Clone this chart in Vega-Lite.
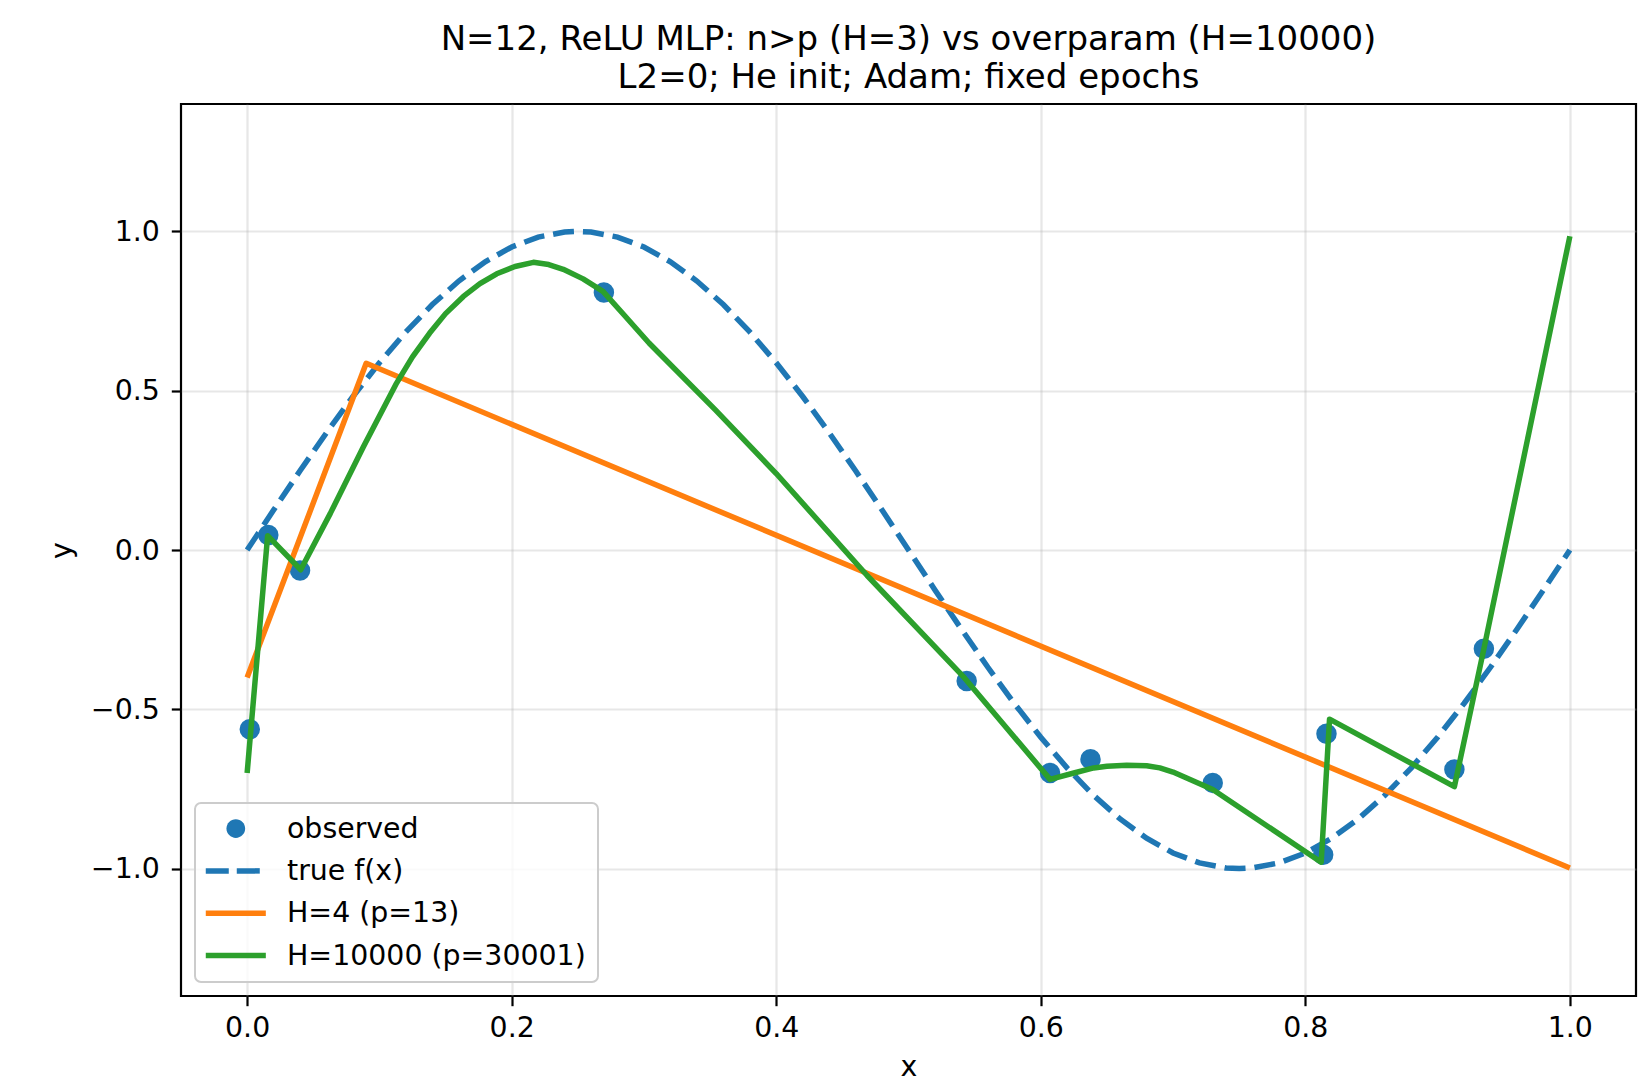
{
  "$schema": "https://vega.github.io/schema/vega-lite/v6.json",
  "width": 1455,
  "height": 892,
  "autosize": {"type": "none"},
  "padding": {"left": 181, "top": 104, "right": 14, "bottom": 82},
  "background": "white",
  "title": {
    "text": ["N=12, ReLU MLP: n>p (H=3) vs overparam (H=10000)", "L2=0; He init; Adam; fixed epochs"],
    "font": "DejaVu Sans",
    "fontSize": 34,
    "fontWeight": "normal",
    "color": "black",
    "lineHeight": 38,
    "anchor": "middle",
    "frame": "group",
    "baseline": "bottom",
    "offset": 9,
    "dy": 34
  },
  "config": {
    "font": "DejaVu Sans",
    "view": {"stroke": "black", "strokeWidth": 2.2},
    "axis": {
      "domain": false,
      "grid": true,
      "gridColor": "#b0b0b0",
      "gridOpacity": 0.3,
      "gridWidth": 2.2,
      "tickColor": "black",
      "tickWidth": 2.2,
      "tickSize": 9.7,
      "labelFont": "DejaVu Sans",
      "labelFontSize": 28.4,
      "labelColor": "black",
      "titleFont": "DejaVu Sans",
      "titleFontSize": 28.4,
      "titleFontWeight": "normal",
      "titleColor": "black"
    }
  },
  "datasets": {
    "obs": [
      {"x": 0.002, "y": -0.563, "series": "observed"},
      {"x": 0.016, "y": 0.047, "series": "observed"},
      {"x": 0.040, "y": -0.064, "series": "observed"},
      {"x": 0.2697, "y": 0.808, "series": "observed"},
      {"x": 0.544, "y": -0.411, "series": "observed"},
      {"x": 0.607, "y": -0.70, "series": "observed"},
      {"x": 0.6376, "y": -0.657, "series": "observed"},
      {"x": 0.730, "y": -0.731, "series": "observed"},
      {"x": 0.816, "y": -0.577, "series": "observed"},
      {"x": 0.8135, "y": -0.957, "series": "observed"},
      {"x": 0.9127, "y": -0.689, "series": "observed"},
      {"x": 0.935, "y": -0.31, "series": "observed"}
    ],
    "truef": [
      {"x": 0.00, "y": 0.0, "series": "true f(x)"},
      {"x": 0.02, "y": 0.1253, "series": "true f(x)"},
      {"x": 0.04, "y": 0.2487, "series": "true f(x)"},
      {"x": 0.06, "y": 0.3681, "series": "true f(x)"},
      {"x": 0.08, "y": 0.4818, "series": "true f(x)"},
      {"x": 0.10, "y": 0.5878, "series": "true f(x)"},
      {"x": 0.12, "y": 0.6845, "series": "true f(x)"},
      {"x": 0.14, "y": 0.7705, "series": "true f(x)"},
      {"x": 0.16, "y": 0.8443, "series": "true f(x)"},
      {"x": 0.18, "y": 0.9048, "series": "true f(x)"},
      {"x": 0.20, "y": 0.9511, "series": "true f(x)"},
      {"x": 0.22, "y": 0.9823, "series": "true f(x)"},
      {"x": 0.24, "y": 0.9980, "series": "true f(x)"},
      {"x": 0.25, "y": 1.0, "series": "true f(x)"},
      {"x": 0.26, "y": 0.9980, "series": "true f(x)"},
      {"x": 0.28, "y": 0.9823, "series": "true f(x)"},
      {"x": 0.30, "y": 0.9511, "series": "true f(x)"},
      {"x": 0.32, "y": 0.9048, "series": "true f(x)"},
      {"x": 0.34, "y": 0.8443, "series": "true f(x)"},
      {"x": 0.36, "y": 0.7705, "series": "true f(x)"},
      {"x": 0.38, "y": 0.6845, "series": "true f(x)"},
      {"x": 0.40, "y": 0.5878, "series": "true f(x)"},
      {"x": 0.42, "y": 0.4818, "series": "true f(x)"},
      {"x": 0.44, "y": 0.3681, "series": "true f(x)"},
      {"x": 0.46, "y": 0.2487, "series": "true f(x)"},
      {"x": 0.48, "y": 0.1253, "series": "true f(x)"},
      {"x": 0.50, "y": 0.0, "series": "true f(x)"},
      {"x": 0.52, "y": -0.1253, "series": "true f(x)"},
      {"x": 0.54, "y": -0.2487, "series": "true f(x)"},
      {"x": 0.56, "y": -0.3681, "series": "true f(x)"},
      {"x": 0.58, "y": -0.4818, "series": "true f(x)"},
      {"x": 0.60, "y": -0.5878, "series": "true f(x)"},
      {"x": 0.62, "y": -0.6845, "series": "true f(x)"},
      {"x": 0.64, "y": -0.7705, "series": "true f(x)"},
      {"x": 0.66, "y": -0.8443, "series": "true f(x)"},
      {"x": 0.68, "y": -0.9048, "series": "true f(x)"},
      {"x": 0.70, "y": -0.9511, "series": "true f(x)"},
      {"x": 0.72, "y": -0.9823, "series": "true f(x)"},
      {"x": 0.74, "y": -0.9980, "series": "true f(x)"},
      {"x": 0.75, "y": -1.0, "series": "true f(x)"},
      {"x": 0.76, "y": -0.9980, "series": "true f(x)"},
      {"x": 0.78, "y": -0.9823, "series": "true f(x)"},
      {"x": 0.80, "y": -0.9511, "series": "true f(x)"},
      {"x": 0.82, "y": -0.9048, "series": "true f(x)"},
      {"x": 0.84, "y": -0.8443, "series": "true f(x)"},
      {"x": 0.86, "y": -0.7705, "series": "true f(x)"},
      {"x": 0.88, "y": -0.6845, "series": "true f(x)"},
      {"x": 0.90, "y": -0.5878, "series": "true f(x)"},
      {"x": 0.92, "y": -0.4818, "series": "true f(x)"},
      {"x": 0.94, "y": -0.3681, "series": "true f(x)"},
      {"x": 0.96, "y": -0.2487, "series": "true f(x)"},
      {"x": 0.98, "y": -0.1253, "series": "true f(x)"},
      {"x": 1.00, "y": 0.0, "series": "true f(x)"}
    ],
    "h4": [
      {"x": 0.0, "y": -0.40, "series": "H=4 (p=13)"},
      {"x": 0.090, "y": 0.586, "series": "H=4 (p=13)"},
      {"x": 1.0, "y": -0.998, "series": "H=4 (p=13)"}
    ],
    "h10000": [
      {"x": 0.0, "y": -0.70, "series": "H=10000 (p=30001)"},
      {"x": 0.0155, "y": 0.045, "series": "H=10000 (p=30001)"},
      {"x": 0.0405, "y": -0.062, "series": "H=10000 (p=30001)"},
      {"x": 0.0629, "y": 0.115, "series": "H=10000 (p=30001)"},
      {"x": 0.088, "y": 0.325, "series": "H=10000 (p=30001)"},
      {"x": 0.113, "y": 0.524, "series": "H=10000 (p=30001)"},
      {"x": 0.125, "y": 0.606, "series": "H=10000 (p=30001)"},
      {"x": 0.138, "y": 0.681, "series": "H=10000 (p=30001)"},
      {"x": 0.150, "y": 0.742, "series": "H=10000 (p=30001)"},
      {"x": 0.1635, "y": 0.796, "series": "H=10000 (p=30001)"},
      {"x": 0.176, "y": 0.836, "series": "H=10000 (p=30001)"},
      {"x": 0.1887, "y": 0.867, "series": "H=10000 (p=30001)"},
      {"x": 0.2025, "y": 0.890, "series": "H=10000 (p=30001)"},
      {"x": 0.2164, "y": 0.903, "series": "H=10000 (p=30001)"},
      {"x": 0.228, "y": 0.896, "series": "H=10000 (p=30001)"},
      {"x": 0.239, "y": 0.881, "series": "H=10000 (p=30001)"},
      {"x": 0.254, "y": 0.851, "series": "H=10000 (p=30001)"},
      {"x": 0.269, "y": 0.812, "series": "H=10000 (p=30001)"},
      {"x": 0.286, "y": 0.733, "series": "H=10000 (p=30001)"},
      {"x": 0.304, "y": 0.649, "series": "H=10000 (p=30001)"},
      {"x": 0.354, "y": 0.440, "series": "H=10000 (p=30001)"},
      {"x": 0.400, "y": 0.240, "series": "H=10000 (p=30001)"},
      {"x": 0.4687, "y": -0.080, "series": "H=10000 (p=30001)"},
      {"x": 0.542, "y": -0.400, "series": "H=10000 (p=30001)"},
      {"x": 0.607, "y": -0.720, "series": "H=10000 (p=30001)"},
      {"x": 0.625, "y": -0.700, "series": "H=10000 (p=30001)"},
      {"x": 0.640, "y": -0.684, "series": "H=10000 (p=30001)"},
      {"x": 0.650, "y": -0.679, "series": "H=10000 (p=30001)"},
      {"x": 0.665, "y": -0.676, "series": "H=10000 (p=30001)"},
      {"x": 0.680, "y": -0.677, "series": "H=10000 (p=30001)"},
      {"x": 0.690, "y": -0.684, "series": "H=10000 (p=30001)"},
      {"x": 0.700, "y": -0.697, "series": "H=10000 (p=30001)"},
      {"x": 0.730, "y": -0.752, "series": "H=10000 (p=30001)"},
      {"x": 0.812, "y": -0.980, "series": "H=10000 (p=30001)"},
      {"x": 0.8183, "y": -0.531, "series": "H=10000 (p=30001)"},
      {"x": 0.9127, "y": -0.743, "series": "H=10000 (p=30001)"},
      {"x": 0.935, "y": -0.310, "series": "H=10000 (p=30001)"},
      {"x": 1.0, "y": 0.985, "series": "H=10000 (p=30001)"}
    ]
  },
  "encoding": {
    "x": {
      "field": "x",
      "type": "quantitative",
      "scale": {"domain": [-0.05, 1.05], "nice": false, "zero": false},
      "axis": {
        "title": "x",
        "values": [0, 0.2, 0.4, 0.6, 0.8, 1.0],
        "format": ".1f",
        "labelPadding": 9,
        "titlePadding": 11
      }
    },
    "y": {
      "field": "y",
      "type": "quantitative",
      "scale": {"domain": [-1.4, 1.4], "nice": false, "zero": false},
      "axis": {
        "title": "y",
        "values": [-1, -0.5, 0, 0.5, 1],
        "labelExpr": "replace(format(datum.value, '.1f'), '-', '\u2212')",
        "labelPadding": 12,
        "titlePadding": 14
      }
    },
    "color": {
      "field": "series",
      "type": "nominal",
      "scale": {
        "domain": ["observed", "true f(x)", "H=4 (p=13)", "H=10000 (p=30001)"],
        "range": ["#1f77b4", "#1f77b4", "#ff7f0e", "#2ca02c"]
      },
      "legend": {
        "title": null,
        "orient": "bottom-left",
        "offset": 14.2,
        "padding": 11.4,
        "fillColor": "rgba(255,255,255,0.8)",
        "strokeColor": "#cccccc",
        "cornerRadius": 6,
        "labelFont": "DejaVu Sans",
        "labelFontSize": 28.4,
        "labelColor": "black",
        "labelLimit": 600,
        "symbolSize": 484,
        "symbolStrokeWidth": 5.5,
        "symbolOffset": 15.2,
        "labelOffset": 37,
        "rowPadding": 13.3,
        "encode": {
          "legend": {"update": {"strokeWidth": {"value": 2}}},
          "symbols": {
            "update": {
              "shape": {"signal": "datum.value === 'observed' ? 'M0.85,0A0.85,0.85,0,1,1,-0.85,0A0.85,0.85,0,1,1,0.85,0Z' : 'M-2.73,0L2.73,0'"},
              "fill": {"signal": "datum.value === 'observed' ? '#1f77b4' : 'transparent'"},
              "fillOpacity": {"value": 1},
              "stroke": {"signal": "datum.value === 'observed' ? 'transparent' : (datum.value === 'H=4 (p=13)' ? '#ff7f0e' : (datum.value === 'H=10000 (p=30001)' ? '#2ca02c' : '#1f77b4'))"},
              "strokeWidth": {"signal": "datum.value === 'observed' ? 0 : 5.5"},
              "strokeDash": {"signal": "datum.value === 'true f(x)' ? [23, 8] : [1, 0]"},
              "strokeCap": {"value": "butt"},
              "opacity": {"value": 1}
            }
          }
        }
      }
    }
  },
  "layer": [
    {
      "data": {"name": "obs"},
      "mark": {"type": "circle", "size": 420, "opacity": 1}
    },
    {
      "data": {"name": "truef"},
      "mark": {"type": "line", "strokeWidth": 5.5, "strokeDash": [21, 9], "strokeCap": "butt"}
    },
    {
      "data": {"name": "h4"},
      "mark": {"type": "line", "strokeWidth": 5.5, "strokeJoin": "round"}
    },
    {
      "data": {"name": "h10000"},
      "mark": {"type": "line", "strokeWidth": 5.5, "strokeJoin": "round"}
    }
  ]
}
